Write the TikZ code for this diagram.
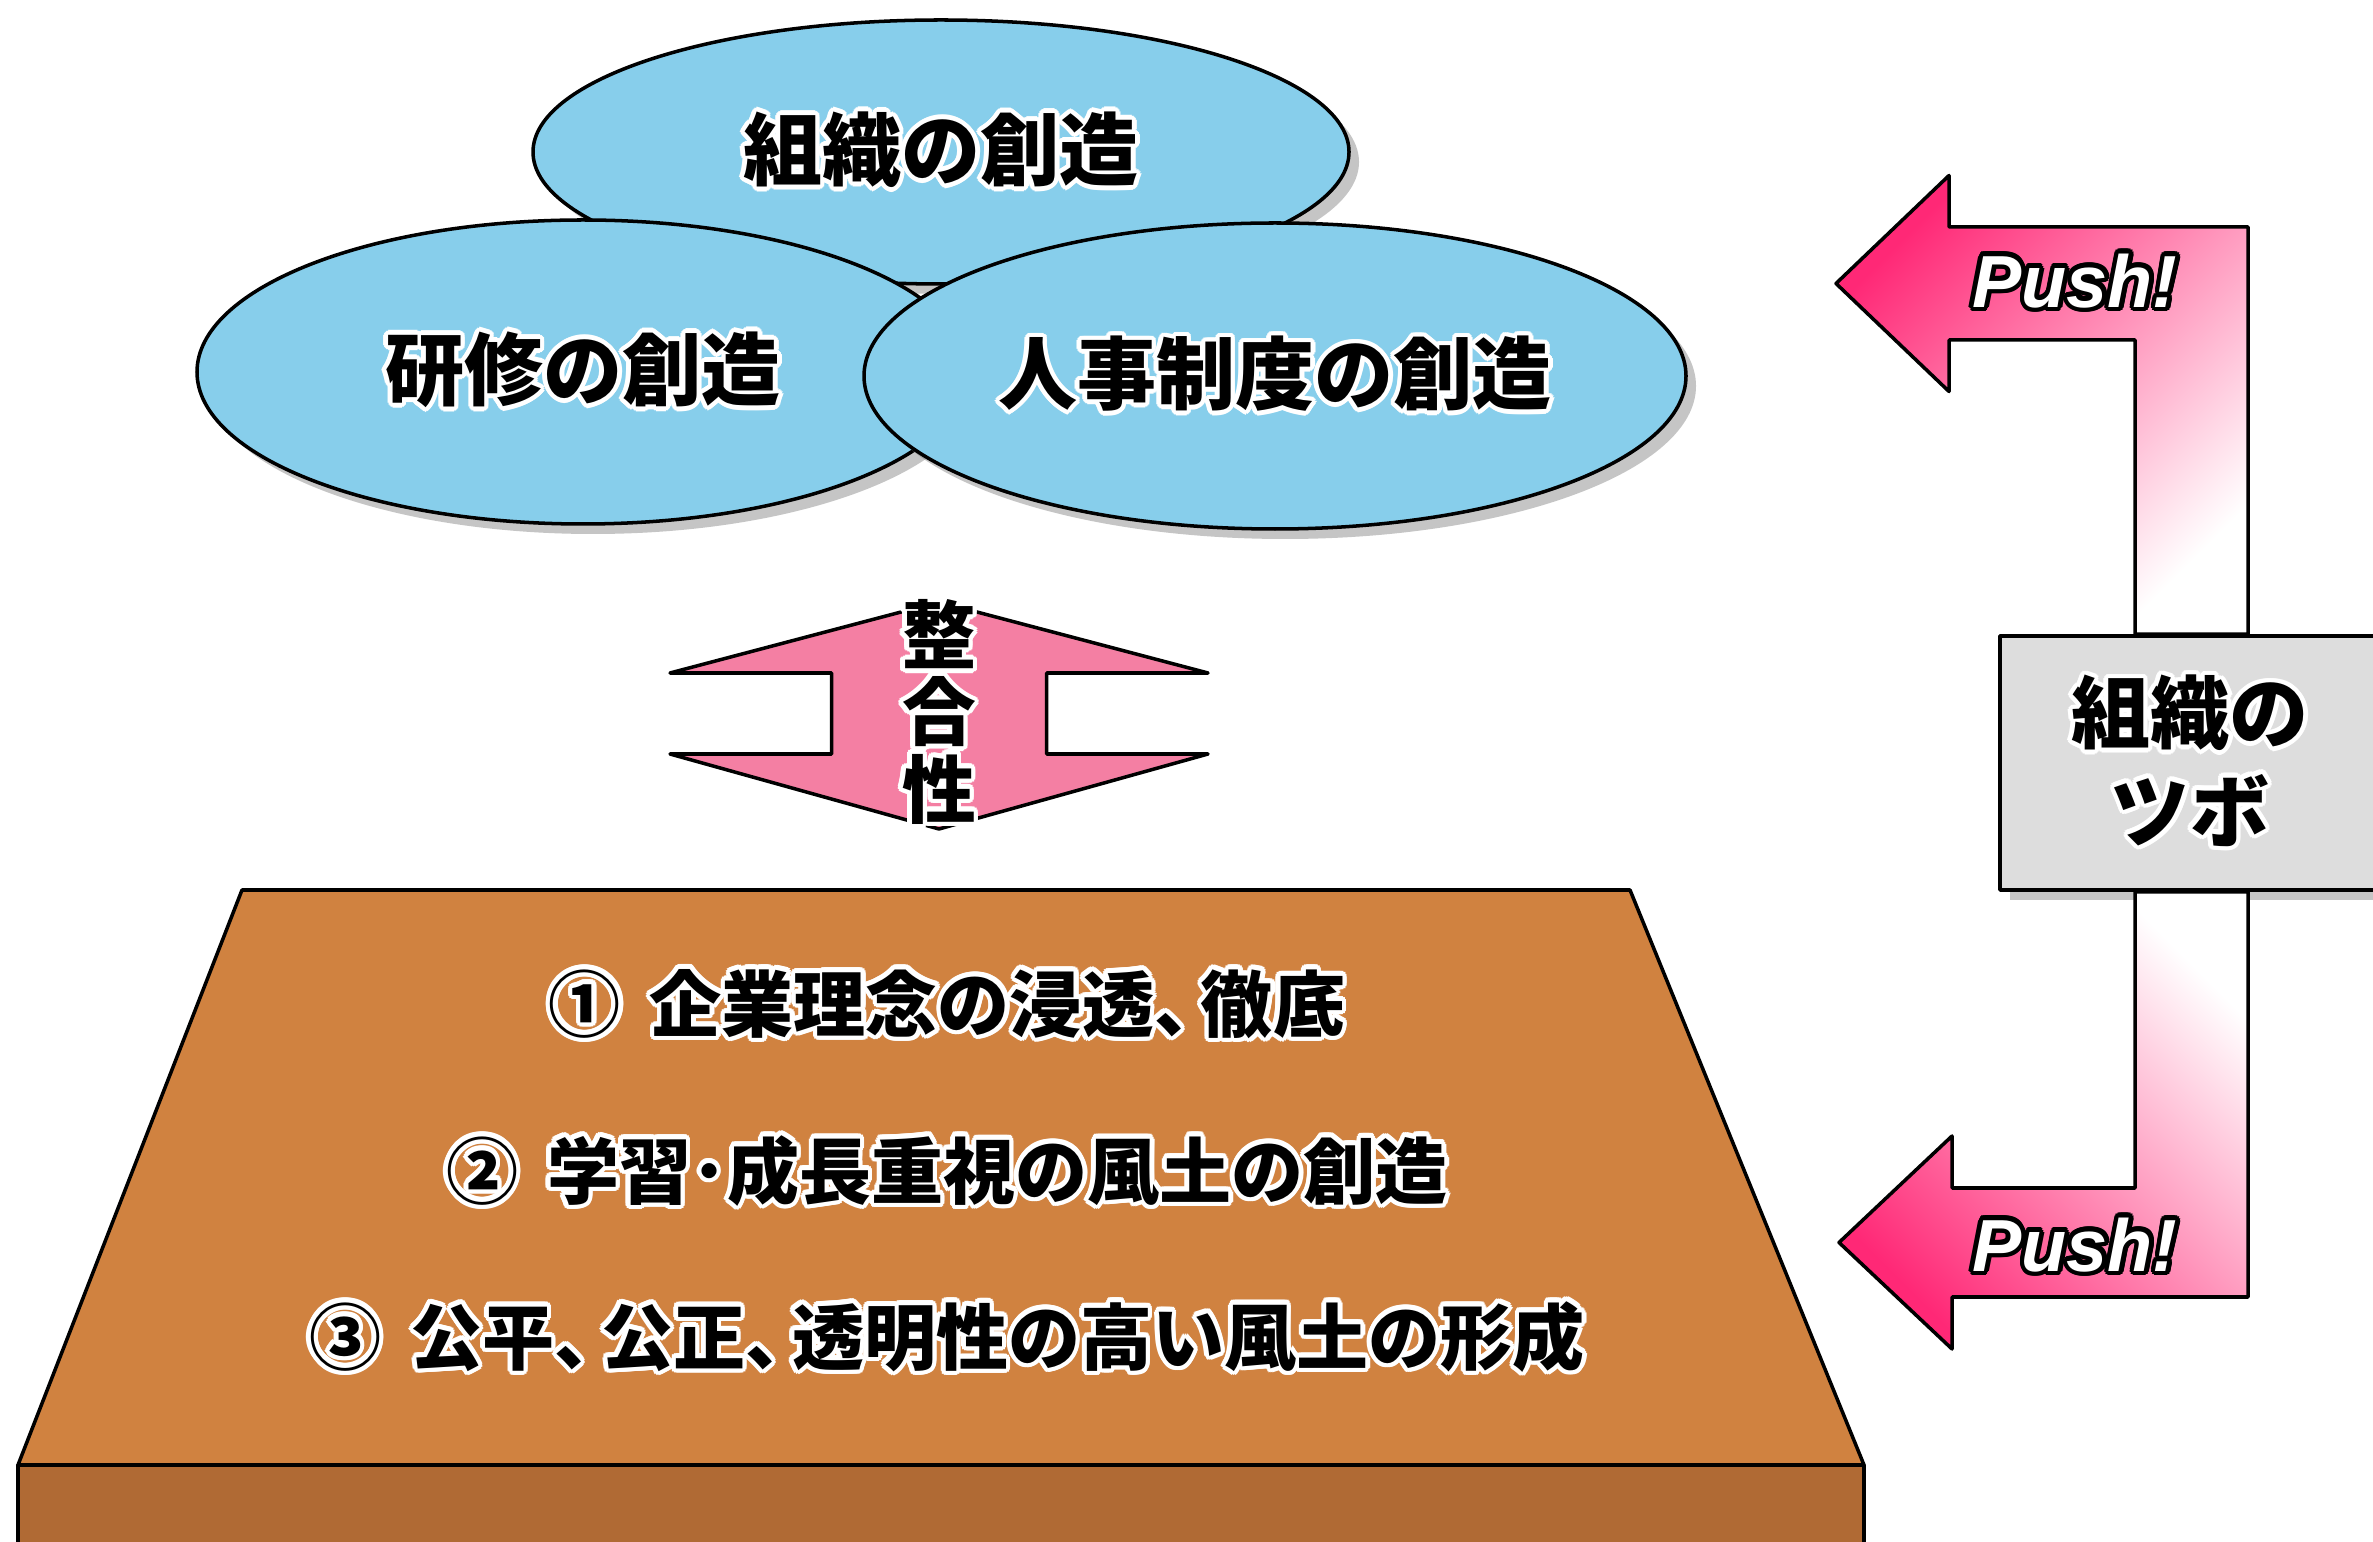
\documentclass[tikz,border=0pt]{standalone}
\usepackage{fontspec}
\setmainfont{Noto Sans CJK JP}
\newfontfamily\pushfont{Liberation Sans}
\usepackage{contour}
\contourlength{1.3pt}
\usetikzlibrary{positioning, shapes.geometric, shadows}

\definecolor{sora}{RGB}{135,206,235}
\definecolor{momo}{RGB}{244,127,163}
\definecolor{koimomo}{RGB}{255,40,118}
\definecolor{tsuchi}{RGB}{208,130,64}
\definecolor{tsuchiura}{RGB}{176,106,52}
\definecolor{hai}{RGB}{221,221,221}

\newcommand{\shiro}[1]{\contour{white}{#1}}
\newcommand{\ten}{、\kern-.35em}

\begin{document}
\begin{tikzpicture}[line width=1pt, line join=round, node distance=2cm, on grid,
      kage/.style={drop shadow={shadow xshift=.1cm, shadow yshift=-.1cm, opacity=.45}},
      kumo/.style={ellipse, draw, fill=sora, inner sep=0pt, kage,
        font=\bfseries\fontsize{22.5}{27}\selectfont},
      moji/.style={font=\bfseries\fontsize{20.5}{24}\selectfont},
      push/.style={text=white, font=\pushfont\bfseries\itshape\fontsize{21}{21}\selectfont}]
      \path[clip, use as bounding box] (0,0) rectangle (23.73,15.41);
      \fill[white] (0,0) rectangle (23.73,15.41);

      \node[kumo, minimum width=8.16cm, minimum height=2.64cm] (c_0) at (9.41,13.89) {\shiro{組織の創造}};
      \node[kumo, minimum width=7.72cm, minimum height=3.04cm] (c_1) [below left=2.2cm and 3.58cm of c_0] {\shiro{研修の創造}};
      \node[kumo, minimum width=8.22cm, minimum height=3.06cm] (c_2) [below right=2.24cm and 3.34cm of c_0] {\shiro{人事制度の創造}};

      \draw[fill=momo] (9.39,9.39) -- (12.08,8.68) -- (10.465,8.68) -- (10.465,7.87) -- (12.08,7.87)
        -- (9.39,7.12) -- (6.70,7.87) -- (8.315,7.87) -- (8.315,8.68) -- (6.70,8.68) -- cycle;
      \node[align=center, font=\bfseries\fontsize{21}{22}\selectfont] (seigo) at (9.39,8.27)
        {\shiro{整}\\\shiro{合}\\\shiro{性}};

      \draw[fill=tsuchiura] (0.18,-1) -- (0.18,0.76) -- (18.64,0.76) -- (18.64,-1);
      \draw[fill=tsuchi] (2.42,6.51) -- (16.30,6.51) -- (18.64,0.76) -- (0.18,0.76) -- cycle;
      \node[moji] (t_1) at (9.47,5.35) {\shiro{①\hspace{.4em}企業理念の浸透\ten 徹底}};
      \node[moji] (t_2) [below=1.67cm of t_1] {\shiro{②\hspace{.4em}学習･成長重視の風土の創造}};
      \node[moji] (t_3) [below=1.66cm of t_2] {\shiro{③\hspace{.4em}公平\ten 公正\ten 透明性の高い風土の形成}};

      \node[draw, fill=hai, kage, align=center, minimum width=3.8cm, minimum height=2.54cm,
        font=\bfseries\fontsize{22.5}{28}\selectfont] (tsubo) at (21.9,7.78) {\shiro{組織の}\\\shiro{ツボ}};

      \draw[top color=koimomo, bottom color=white, shading angle=45]
        (18.36,12.575) -- (19.49,13.655) -- (19.49,13.14) -- (22.48,13.14) -- (22.48,0 |- tsubo.north)
        -- (21.35,0 |- tsubo.north) -- (21.35,12.01) -- (19.49,12.01) -- (19.49,11.495) -- cycle;
      \draw[top color=white, bottom color=koimomo, shading angle=-45]
        (18.39,2.985) -- (19.52,4.05) -- (19.52,3.53) -- (21.35,3.53) -- (21.35,0 |- tsubo.south)
        -- (22.48,0 |- tsubo.south) -- (22.48,2.44) -- (19.52,2.44) -- (19.52,1.92) -- cycle;
      \node[push] (p_1) at (20.75,12.58) {\contour{black}{Push!}};
      \node[push] (p_2) at (20.75,2.94) {\contour{black}{Push!}};
    \end{tikzpicture}
\end{document}
